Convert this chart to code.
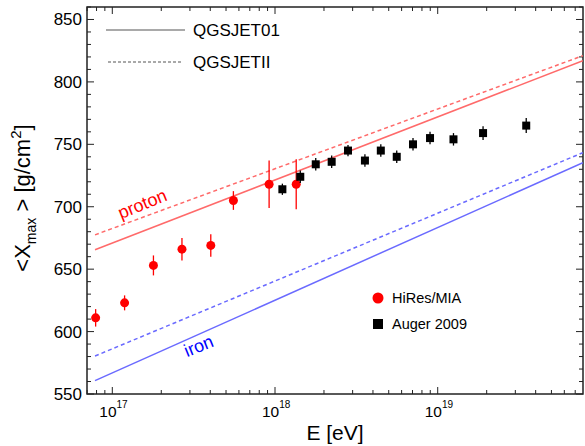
<!DOCTYPE html>
<html>
<head>
<meta charset="utf-8">
<script src="https://cdn.jsdelivr.net/npm/d3@7"></script>
<style>
  body { margin: 0; background: #fff; }
  text { font-family: Arial, "Liberation Sans", sans-serif; }
</style>
</head>
<body>
<div id="chart"></div>
<script>
// HiRes/MIA points
var hiresE = [7.9e16, 1.19e17, 1.79e17, 2.68e17, 4.03e17, 5.55e17, 9.2e17, 1.35e18];
var hiresX = [611, 623, 653, 666, 669, 705, 718, 718];
var hiresErr = [7, 6, 8, 9, 9, 7.5, 19, 20];

// Auger 2009 points
var augerE = [1.11e18, 1.43e18, 1.78e18, 2.23e18, 2.81e18, 3.57e18, 4.47e18, 5.6e18, 7.05e18, 8.97e18, 1.25e19, 1.9e19, 3.5e19];
var augerX = [714, 724, 734, 736, 745, 737, 745, 740, 750, 755, 754, 759, 765];
var augerErr = [4.5, 5, 5, 5, 4.5, 5, 5, 5, 5, 5, 5, 5.5, 6];

// model lines (start and end energy)
var modelE = [7.83e16, 7.8e19];
var protonQ01 = [665.5, 817];
var protonQII = [677.5, 821];
var ironQ01 = [560.7, 735.3];
var ironQII = [580.4, 743.3];

var yTicks = [550, 600, 650, 700, 750, 800, 850];
var xMajor = [1e17, 1e18, 1e19];

var W = 585, H = 446;
var margin = { top: 7, right: 2, bottom: 52, left: 87 };
var width = W - margin.left - margin.right,
  height = H - margin.top - margin.bottom;

var svg = d3
  .select("#chart")
  .append("svg")
  .attr("width", W)
  .attr("height", H);

var g = svg
  .append("g")
  .attr("transform", "translate(" + margin.left + "," + margin.top + ")");

var x = d3
  .scaleLog()
  .domain([Math.pow(10, 16.8445), Math.pow(10, 19.893)])
  .range([0, width]);
var y = d3
  .scaleLinear()
  .domain([550, 860])
  .range([height, 0]);

svg
  .append("clipPath")
  .attr("id", "clip")
  .append("rect")
  .attr("width", width)
  .attr("height", height);

// minor ticks for log axis
var xMinor = [];
[16, 17, 18, 19].forEach(function(p) {
  for (var k = 2; k <= 9; k++) {
    var v = k * Math.pow(10, p);
    if (v > x.domain()[0] && v < x.domain()[1]) xMinor.push(v);
  }
});
var yMinor = d3.range(550, 861, 10).filter(function(v) {
  return v % 50 != 0;
});

// ticks (inward, on all four sides)
var ticks = g.append("g").attr("stroke", "#222").attr("stroke-width", 1);
function tick(x1, y1, x2, y2) {
  ticks.append("line").attr("x1", x1).attr("y1", y1).attr("x2", x2).attr("y2", y2);
}
xMajor.forEach(function(v) {
  tick(x(v), height, x(v), height - 7);
  tick(x(v), 0, x(v), 7);
});
xMinor.forEach(function(v) {
  tick(x(v), height, x(v), height - 4);
  tick(x(v), 0, x(v), 4);
});
yTicks.forEach(function(v) {
  tick(0, y(v), 7, y(v));
  tick(width, y(v), width - 7, y(v));
});
yMinor.forEach(function(v) {
  tick(0, y(v), 4, y(v));
  tick(width, y(v), width - 4, y(v));
});

// frame
g.append("rect")
  .attr("width", width)
  .attr("height", height)
  .attr("fill", "none")
  .attr("stroke", "#222")
  .attr("stroke-width", 1.5);

// y tick labels
g.selectAll(".ylab")
  .data(yTicks)
  .enter()
  .append("text")
  .attr("class", "ylab")
  .attr("x", -5)
  .attr("y", function(d) {
    return y(d);
  })
  .attr("dy", "0.35em")
  .attr("text-anchor", "end")
  .style("font-size", "17px")
  .text(function(d) {
    return d;
  });

// x tick labels 10^n
var xl = g
  .selectAll(".xlab")
  .data(xMajor)
  .enter()
  .append("text")
  .attr("class", "xlab")
  .attr("x", function(d) {
    return x(d) - 13;
  })
  .attr("y", height + 23)
  .style("font-size", "15.5px");
xl.append("tspan").text("10");
xl.append("tspan")
  .attr("dy", -9)
  .style("font-size", "10px")
  .text(function(d) {
    return Math.round(Math.log10(d));
  });

// axis titles
g.append("text")
  .attr("x", width / 2)
  .attr("y", height + 46)
  .attr("text-anchor", "middle")
  .style("font-size", "21px")
  .text("E [eV]");

var yt = svg
  .append("text")
  .attr("transform", "translate(30,198) rotate(-90)")
  .attr("text-anchor", "middle")
  .style("font-size", "22px");
yt.append("tspan").text("<X");
yt.append("tspan").attr("dy", 6).style("font-size", "14px").text("max");
yt.append("tspan").attr("dy", -6).text(" > [g/cm");
yt.append("tspan").attr("dy", -9).style("font-size", "15px").text("2");
yt.append("tspan").attr("dy", 9).text("]");

// model lines
var plot = g.append("g").attr("clip-path", "url(#clip)");
var line = d3
  .line()
  .x(function(d) {
    return x(d[0]);
  })
  .y(function(d) {
    return y(d[1]);
  });
var models = [
  { vals: protonQ01, color: "#ff6a6a", dash: null },
  { vals: protonQII, color: "#ff6a6a", dash: "4,3" },
  { vals: ironQ01, color: "#6a6aff", dash: null },
  { vals: ironQII, color: "#6a6aff", dash: "4,3" }
];
models.forEach(function(m) {
  plot
    .append("path")
    .datum(d3.zip(modelE, m.vals))
    .attr("d", line)
    .attr("fill", "none")
    .attr("stroke", m.color)
    .attr("stroke-width", 1.5)
    .attr("stroke-dasharray", m.dash);
});

// proton / iron labels
g.append("text")
  .attr("transform", "translate(" + x(1.13e17) + "," + y(690) + ") rotate(-22)")
  .attr("fill", "#ff0000")
  .style("font-size", "18px")
  .text("proton");
g.append("text")
  .attr("transform", "translate(" + x(2.88e17) + "," + y(579.5) + ") rotate(-22)")
  .attr("fill", "#0000ff")
  .style("font-size", "18px")
  .text("iron");

// HiRes/MIA
var hires = d3.zip(hiresE, hiresX, hiresErr);
plot
  .selectAll(".hbar")
  .data(hires)
  .enter()
  .append("line")
  .attr("x1", function(d) {
    return x(d[0]);
  })
  .attr("x2", function(d) {
    return x(d[0]);
  })
  .attr("y1", function(d) {
    return y(d[1] - d[2]);
  })
  .attr("y2", function(d) {
    return y(d[1] + d[2]);
  })
  .attr("stroke", "#ff0000")
  .attr("stroke-width", 1.3);
plot
  .selectAll(".hdot")
  .data(hires)
  .enter()
  .append("circle")
  .attr("cx", function(d) {
    return x(d[0]);
  })
  .attr("cy", function(d) {
    return y(d[1]);
  })
  .attr("r", 4.5)
  .attr("fill", "#ff0000");

// Auger
var auger = d3.zip(augerE, augerX, augerErr);
plot
  .selectAll(".abar")
  .data(auger)
  .enter()
  .append("line")
  .attr("x1", function(d) {
    return x(d[0]);
  })
  .attr("x2", function(d) {
    return x(d[0]);
  })
  .attr("y1", function(d) {
    return y(d[1] - d[2]);
  })
  .attr("y2", function(d) {
    return y(d[1] + d[2]);
  })
  .attr("stroke", "#000")
  .attr("stroke-width", 1.3);
plot
  .selectAll(".asq")
  .data(auger)
  .enter()
  .append("rect")
  .attr("x", function(d) {
    return x(d[0]) - 4;
  })
  .attr("y", function(d) {
    return y(d[1]) - 4;
  })
  .attr("width", 8)
  .attr("height", 8)
  .attr("fill", "#000");

// legend: models
var lg = svg.append("g");
lg.append("line")
  .attr("x1", 106).attr("x2", 185).attr("y1", 30).attr("y2", 30)
  .attr("stroke", "#555").attr("stroke-width", 1.2);
lg.append("line")
  .attr("x1", 108).attr("x2", 183).attr("y1", 62).attr("y2", 62)
  .attr("stroke", "#555").attr("stroke-width", 1.2).attr("stroke-dasharray", "3,2");
lg.append("text").attr("x", 193).attr("y", 30).attr("dy", "0.35em")
  .style("font-size", "17px").text("QGSJET01");
lg.append("text").attr("x", 193).attr("y", 62).attr("dy", "0.35em")
  .style("font-size", "17px").text("QGSJETII");

// legend: data
lg.append("circle").attr("cx", 378).attr("cy", 298).attr("r", 5.5).attr("fill", "#ff0000");
lg.append("rect").attr("x", 373).attr("y", 319).attr("width", 10).attr("height", 10).attr("fill", "#000");
lg.append("text").attr("x", 392).attr("y", 298).attr("dy", "0.35em")
  .style("font-size", "14.5px").text("HiRes/MIA");
lg.append("text").attr("x", 392).attr("y", 324).attr("dy", "0.35em")
  .style("font-size", "14.5px").text("Auger 2009");
</script>
</body>
</html>
